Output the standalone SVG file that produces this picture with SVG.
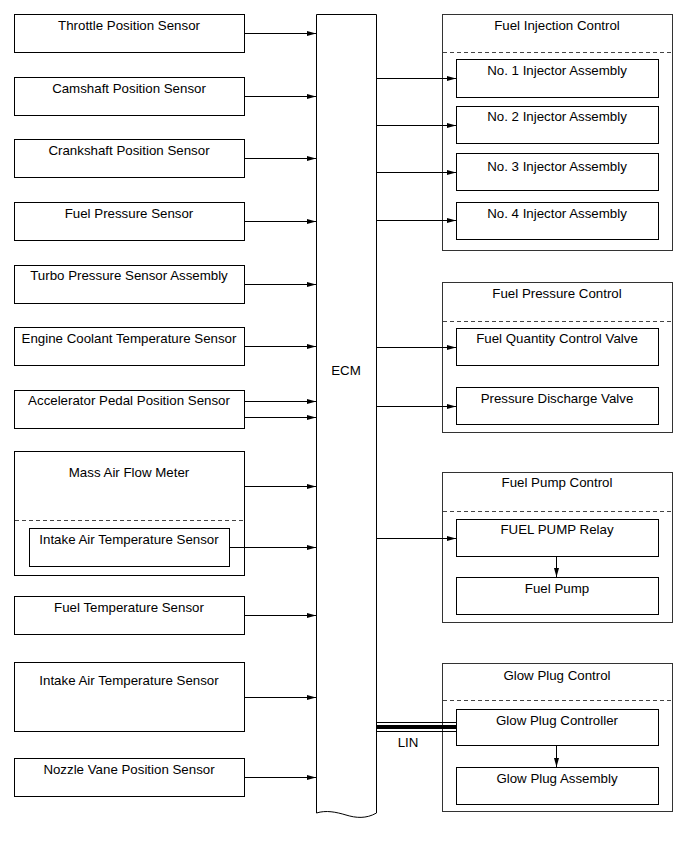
<svg xmlns="http://www.w3.org/2000/svg" width="690" height="854" viewBox="0 0 690 854">
<style>
.box{fill:#fff;stroke:#000;stroke-width:1}
.grp{fill:#fff;stroke:#333;stroke-width:1}
.dash{fill:none;stroke:#444;stroke-width:1;stroke-dasharray:4 3}
.t{font-family:"Liberation Sans",Arial,sans-serif;font-size:13.3px;fill:#000;text-anchor:middle}
.c{fill:none;stroke:#000;stroke-width:1}
</style>
<defs>
<marker id="ah" markerWidth="9" markerHeight="6" refX="9" refY="3" orient="auto" markerUnits="userSpaceOnUse">
<path d="M0,0.5 L9,3 L0,5.5 z" fill="#000"/>
</marker>
</defs>
<rect width="690" height="854" fill="#fff"/>

<g id="ecm">
<path class="box" d="M316.5,813 V14.5 H376.5 V813 C366,819 356,818 346,815 C336,812 326,810 316.5,813 Z"/>
<text class="t" x="346" y="375">ECM</text>
</g>

<g id="throttle"><rect class="box" x="14.5" y="14.5" width="230" height="38"/><text class="t" x="129" y="30">Throttle Position Sensor</text></g>
<g id="camshaft"><rect class="box" x="14.5" y="77.5" width="230" height="38"/><text class="t" x="129" y="93">Camshaft Position Sensor</text></g>
<g id="crankshaft"><rect class="box" x="14.5" y="139.5" width="230" height="38"/><text class="t" x="129" y="155">Crankshaft Position Sensor</text></g>
<g id="fuelpressuresensor"><rect class="box" x="14.5" y="202.5" width="230" height="38"/><text class="t" x="129" y="218">Fuel Pressure Sensor</text></g>
<g id="turbo"><rect class="box" x="14.5" y="265.5" width="230" height="38"/><text class="t" x="129" y="280">Turbo Pressure Sensor Assembly</text></g>
<g id="coolant"><rect class="box" x="14.5" y="327.5" width="230" height="38"/><text class="t" x="129" y="343">Engine Coolant Temperature Sensor</text></g>
<g id="accel"><rect class="box" x="14.5" y="390.5" width="230" height="38"/><text class="t" x="129" y="405">Accelerator Pedal Position Sensor</text></g>
<g id="maf">
<rect class="box" x="14.5" y="451.5" width="230" height="124"/>
<text class="t" x="129" y="477">Mass Air Flow Meter</text>
<line class="dash" x1="15" y1="520.5" x2="244" y2="520.5"/>
</g>
<g id="iat1"><rect class="box" x="29.5" y="528.5" width="200" height="38"/><text class="t" x="129" y="544">Intake Air Temperature Sensor</text></g>
<g id="fueltemp"><rect class="box" x="14.5" y="596.5" width="230" height="38"/><text class="t" x="129" y="612">Fuel Temperature Sensor</text></g>
<g id="iat2"><rect class="box" x="14.5" y="662.5" width="230" height="69"/><text class="t" x="129" y="685">Intake Air Temperature Sensor</text></g>
<g id="nozzle"><rect class="box" x="14.5" y="758.5" width="230" height="38"/><text class="t" x="129" y="774">Nozzle Vane Position Sensor</text></g>

<g id="fic">
<rect class="grp" x="442.5" y="14.5" width="230" height="236"/>
<text class="t" x="557" y="30">Fuel Injection Control</text>
<line class="dash" x1="443" y1="52.5" x2="672" y2="52.5"/>
</g>
<g id="inj1"><rect class="box" x="456.5" y="59.5" width="202" height="38"/><text class="t" x="557" y="75">No. 1 Injector Assembly</text></g>
<g id="inj2"><rect class="box" x="456.5" y="106.5" width="202" height="37"/><text class="t" x="557" y="121">No. 2 Injector Assembly</text></g>
<g id="inj3"><rect class="box" x="456.5" y="153.5" width="202" height="37"/><text class="t" x="557" y="171">No. 3 Injector Assembly</text></g>
<g id="inj4"><rect class="box" x="456.5" y="202.5" width="202" height="37"/><text class="t" x="557" y="218">No. 4 Injector Assembly</text></g>

<g id="fpc">
<rect class="grp" x="442.5" y="282.5" width="230" height="150"/>
<text class="t" x="557" y="298">Fuel Pressure Control</text>
<line class="dash" x1="443" y1="321.5" x2="672" y2="321.5"/>
</g>
<g id="fqcv"><rect class="box" x="456.5" y="328.5" width="202" height="37"/><text class="t" x="557" y="343">Fuel Quantity Control Valve</text></g>
<g id="pdv"><rect class="box" x="456.5" y="387.5" width="202" height="37"/><text class="t" x="557" y="403">Pressure Discharge Valve</text></g>

<g id="fpuc">
<rect class="grp" x="442.5" y="472.5" width="230" height="150"/>
<text class="t" x="557" y="487">Fuel Pump Control</text>
<line class="dash" x1="443" y1="511.5" x2="672" y2="511.5"/>
</g>
<g id="relay"><rect class="box" x="456.5" y="519.5" width="202" height="37"/><text class="t" x="557" y="534">FUEL PUMP Relay</text></g>
<g id="pump"><rect class="box" x="456.5" y="577.5" width="202" height="37"/><text class="t" x="557" y="593">Fuel Pump</text></g>

<g id="gpc">
<rect class="grp" x="442.5" y="663.5" width="230" height="148"/>
<text class="t" x="557" y="680">Glow Plug Control</text>
<line class="dash" x1="443" y1="700.5" x2="672" y2="700.5"/>
</g>
<g id="gpcontroller"><rect class="box" x="456.5" y="709.5" width="202" height="36"/><text class="t" x="557" y="725">Glow Plug Controller</text></g>
<g id="gpassembly"><rect class="box" x="456.5" y="767.5" width="202" height="37"/><text class="t" x="557" y="783">Glow Plug Assembly</text></g>

<g id="connectors">
<line class="c" x1="245" y1="33.5" x2="316" y2="33.5" marker-end="url(#ah)"/>
<line class="c" x1="245" y1="96.5" x2="316" y2="96.5" marker-end="url(#ah)"/>
<line class="c" x1="245" y1="158.5" x2="316" y2="158.5" marker-end="url(#ah)"/>
<line class="c" x1="245" y1="221.5" x2="316" y2="221.5" marker-end="url(#ah)"/>
<line class="c" x1="245" y1="284.5" x2="316" y2="284.5" marker-end="url(#ah)"/>
<line class="c" x1="245" y1="346.5" x2="316" y2="346.5" marker-end="url(#ah)"/>
<line class="c" x1="245" y1="401.5" x2="316" y2="401.5" marker-end="url(#ah)"/>
<line class="c" x1="245" y1="417.5" x2="316" y2="417.5" marker-end="url(#ah)"/>
<line class="c" x1="245" y1="486.5" x2="316" y2="486.5" marker-end="url(#ah)"/>
<line class="c" x1="230" y1="547.5" x2="316" y2="547.5" marker-end="url(#ah)"/>
<line class="c" x1="245" y1="615.5" x2="316" y2="615.5" marker-end="url(#ah)"/>
<line class="c" x1="245" y1="697.5" x2="316" y2="697.5" marker-end="url(#ah)"/>
<line class="c" x1="245" y1="777.5" x2="316" y2="777.5" marker-end="url(#ah)"/>

<line class="c" x1="377" y1="78.5" x2="456" y2="78.5" marker-end="url(#ah)"/>
<line class="c" x1="377" y1="125.5" x2="456" y2="125.5" marker-end="url(#ah)"/>
<line class="c" x1="377" y1="172.5" x2="456" y2="172.5" marker-end="url(#ah)"/>
<line class="c" x1="377" y1="220.5" x2="456" y2="220.5" marker-end="url(#ah)"/>
<line class="c" x1="377" y1="347.5" x2="456" y2="347.5" marker-end="url(#ah)"/>
<line class="c" x1="377" y1="406.5" x2="456" y2="406.5" marker-end="url(#ah)"/>
<line class="c" x1="377" y1="538.5" x2="456" y2="538.5" marker-end="url(#ah)"/>

<line class="c" x1="556.5" y1="557" x2="556.5" y2="577" marker-end="url(#ah)"/>
<line class="c" x1="556.5" y1="746" x2="556.5" y2="767" marker-end="url(#ah)"/>

<line class="c" x1="377" y1="722.5" x2="456" y2="722.5"/>
<line x1="377" y1="727" x2="456" y2="727" stroke="#000" stroke-width="4"/>
<line class="c" x1="377" y1="731.5" x2="456" y2="731.5"/>
<text class="t" x="408" y="747">LIN</text>
</g>
</svg>
